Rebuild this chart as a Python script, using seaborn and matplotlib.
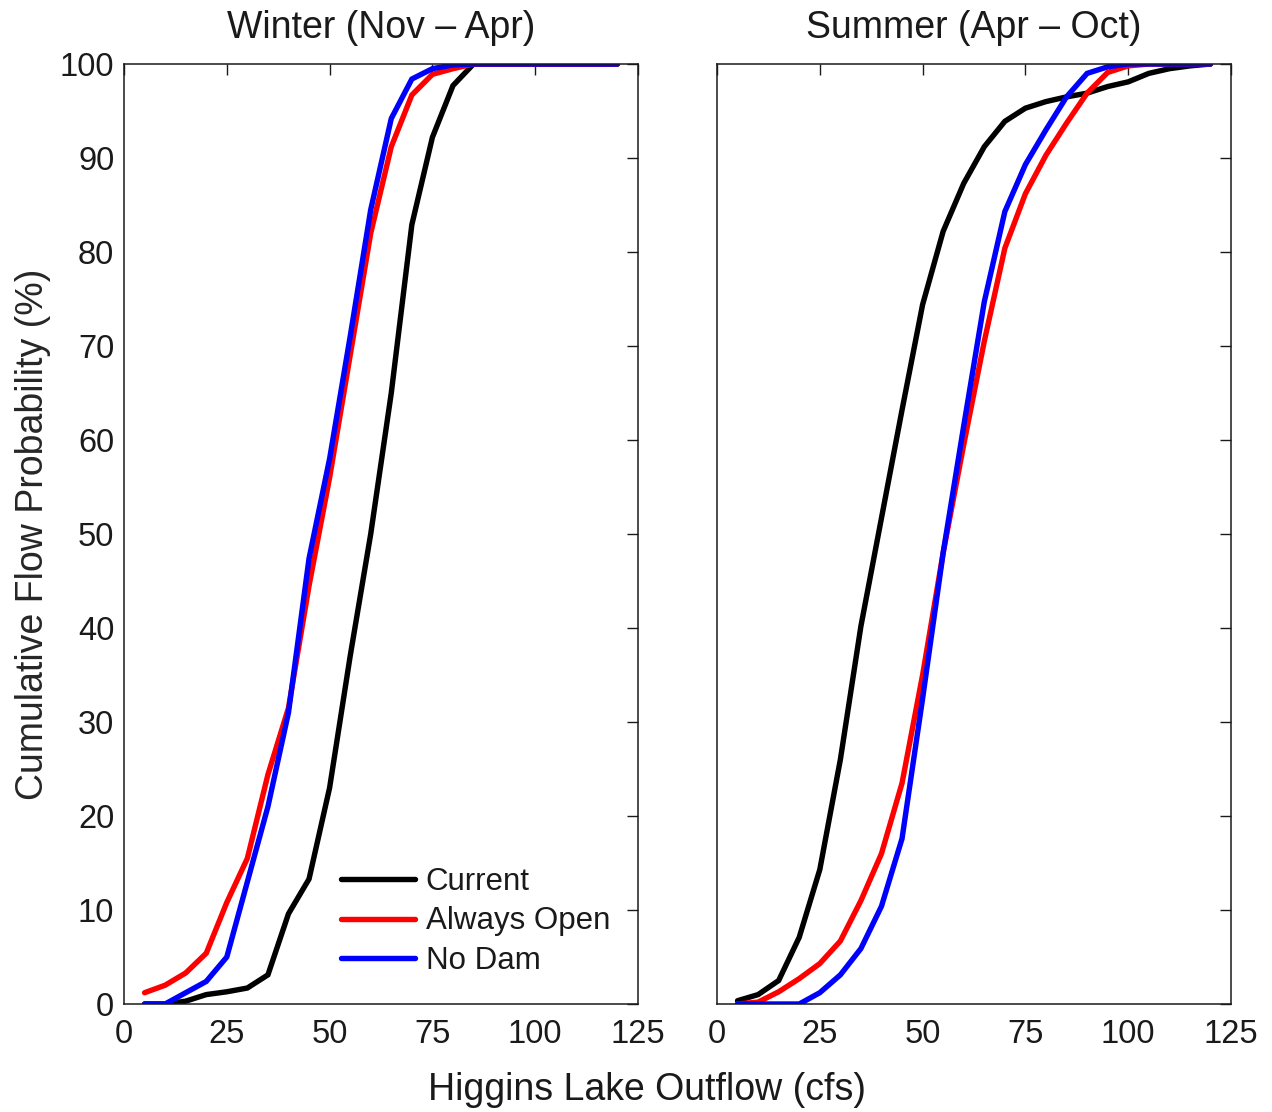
import numpy as np
import pandas as pd
import matplotlib
matplotlib.use("Agg")
import matplotlib.pyplot as plt
import seaborn as sns

# Outflow bins (cfs)
flow = [5, 10, 15, 20, 25, 30, 35, 40, 45, 50, 55, 60, 65, 70, 75, 80, 85, 90, 95, 100, 105, 110, 115, 120]

# Winter (Nov - Apr) cumulative probability (%)
winter_current = [0, 0, 0.3, 1.0, 1.3, 1.7, 3.1, 9.6, 13.3, 23.0, 37.0, 50.0, 65.0, 82.9, 92.2, 97.7, 100, 100, 100, 100, 100, 100, 100, 100]
winter_open = [1.2, 2.0, 3.3, 5.4, 10.8, 15.5, 24.4, 31.5, 44.5, 56.0, 69.0, 82.0, 91.2, 96.7, 98.9, 99.5, 100, 100, 100, 100, 100, 100, 100, 100]
winter_nodam = [0, 0, 1.2, 2.4, 5.0, 13.0, 21.0, 31.0, 47.4, 58.0, 71.0, 84.5, 94.2, 98.4, 99.5, 99.9, 100, 100, 100, 100, 100, 100, 100, 100]

# Summer (Apr - Oct) cumulative probability (%)
summer_current = [0.35, 1.0, 2.5, 7.1, 14.3, 26.0, 40.2, 51.7, 63.2, 74.4, 82.2, 87.3, 91.2, 93.9, 95.3, 96.0, 96.5, 96.9, 97.6, 98.1, 99.0, 99.5, 99.8, 100]
summer_open = [0, 0.2, 1.3, 2.7, 4.3, 6.7, 11.0, 16.0, 23.5, 35.0, 48.0, 59.5, 70.5, 80.4, 86.2, 90.3, 93.7, 96.9, 99.1, 99.8, 100, 100, 100, 100]
summer_nodam = [0, 0, 0, 0, 1.2, 3.1, 5.9, 10.4, 17.6, 32.5, 48.0, 61.5, 74.7, 84.3, 89.3, 93.0, 96.5, 99.0, 99.7, 100, 100, 100, 100, 100]

scenarios = ["Current", "Always Open", "No Dam"]
colors = {"Current": "#000000", "Always Open": "#ff0000", "No Dam": "#0000ff"}
titles = ["Winter (Nov \u2013 Apr)", "Summer (Apr \u2013 Oct)"]


def long_frame(series):
    rows = []
    for name, vals in zip(scenarios, series):
        for x, y in zip(flow, vals):
            rows.append({"flow": x, "prob": y, "scenario": name})
    return pd.DataFrame(rows)


frames = [long_frame([winter_current, winter_open, winter_nodam]),
          long_frame([summer_current, summer_open, summer_nodam])]

sns.set_theme(style="white")
plt.rcParams["font.family"] = ["Liberation Sans", "DejaVu Sans"]
plt.rcParams["text.color"] = "#1a1a1a"

LW = 3.9

fig = plt.figure(figsize=(12.72, 11.12), dpi=100)
ax_w = 514 / 1272
ax_h = 940 / 1112
bottom = 108 / 1112
axes = [fig.add_axes([124 / 1272, bottom, ax_w, ax_h]),
        fig.add_axes([717 / 1272, bottom, ax_w, ax_h])]

for i, (ax, df, title) in enumerate(zip(axes, frames, titles)):
    sns.lineplot(data=df, x="flow", y="prob", hue="scenario", hue_order=scenarios,
                 palette=colors, linewidth=LW, ax=ax, legend=(i == 0),
                 solid_joinstyle="miter")
    ax.set_xlim(0, 125)
    ax.set_ylim(0, 100)
    ax.set_xticks([0, 25, 50, 75, 100, 125])
    ax.set_yticks(range(0, 101, 10))
    ax.tick_params(direction="in", length=8, width=1.0, top=True, right=True,
                   labelsize=23.5, colors="#1a1a1a", pad=7)
    ax.tick_params(axis="x", pad=10.5)
    for s in ax.spines.values():
        s.set_linewidth(1.1)
        s.set_color("#1a1a1a")
    ax.set_title(title, fontsize=27, pad=18.5)
    ax.set_xlabel("")
    ax.set_ylabel("")
    if i == 1:
        ax.tick_params(labelleft=False)

axes[0].set_ylabel("Cumulative Flow Probability (%)", fontsize=27, labelpad=6)
leg = axes[0].legend(loc="lower right", frameon=False, fontsize=22.5,
                     handlelength=2.35, handletextpad=0.35, labelspacing=0.3,
                     bbox_to_anchor=(1.0, 0.0))
for h in leg.get_lines():
    h.set_linewidth(LW)

fig.text(0.5085, 0.004, "Higgins Lake Outflow (cfs)", ha="center", va="bottom", fontsize=27)

fig.savefig("out.png", dpi=100)
